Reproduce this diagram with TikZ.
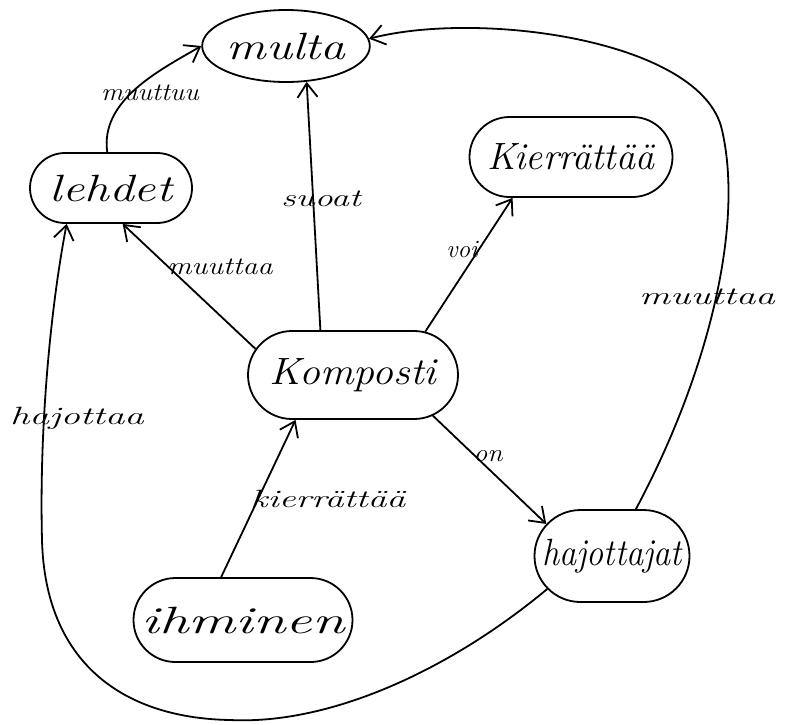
\documentclass[tikz,border=0pt]{standalone}
\usetikzlibrary{shapes.geometric,shapes.misc,arrows.meta}
% horizontally stretched text, for the wide hand lettering
\newcommand{\hw}[2]{\scalebox{#1}[1]{#2}}
\begin{document}
\begin{tikzpicture}[x=1pt,y=-1pt,
  ink/.style={line width=1.8pt,black},
  concept/.style={ink,draw,rounded rectangle,inner sep=0pt,
    font=\itshape\fontsize{38}{40}\selectfont},
  oval/.style={ink,draw,ellipse,inner sep=0pt,
    font=\itshape\fontsize{38}{40}\selectfont},
  link/.style={ink,-{Straight Barb[length=14pt,width=20pt,line width=1.8pt]}},
  tag/.style={font=\itshape\fontsize{25}{27}\selectfont,inner sep=0pt}]
\useasboundingbox (0,0) rectangle (789,724);

% concepts
\node[oval,minimum width=154pt,minimum height=72pt] (multa) at (286,46) {\hw{1.3}{multa}};
\node[concept,minimum width=162pt,minimum height=70pt] (lehdet) at (111,188) {\hw{1.3}{lehdet}};
\node[concept,minimum width=203pt,minimum height=80pt] (kierr) at (571,157) {\hw{1.0}{Kierrättää}};
\node[concept,minimum width=210pt,minimum height=88pt] (komp) at (353,375) {\hw{1.1}{Komposti}};
\node[concept,minimum width=155pt,minimum height=92pt] (hajot) at (612,556) {\hw{0.9}{hajottajat}};
\node[concept,minimum width=219pt,minimum height=84pt] (ihm) at (243,620) {\hw{1.55}{ihminen}};

% connectors
\draw[link] (lehdet.96) .. controls (100,100) and (160,70) .. (multa.west);
\draw[link] (komp.165) -- (lehdet.288);
\draw[link] (komp.126) -- (multa.300);
\draw[link] (komp.31) -- (kierr.215);
\draw[link] (komp.-27) -- (hajot.154);
\draw[link] (ihm.117) -- (komp.218);
\draw[link] (hajot.63) .. controls (705,380) and (745,230) .. (722,130)
  .. controls (702,40) and (480,10) .. (multa.5);
\draw[link] (hajot.207) .. controls (450,670) and (330,725) .. (230,720)
  .. controls (120,718) and (45,660) .. (42,540)
  .. controls (39,420) and (52,300) .. (lehdet.219);

% connector labels
\node[tag] (t1) at (150,93) {\hw{1.1}{muuttuu}};
\node[tag] (t2) at (220,267) {\hw{1.2}{muuttaa}};
\node[tag] (t3) at (321,199) {\hw{1.45}{suoat}};
\node[tag] (t4) at (462,249) {\hw{1.0}{voi}};
\node[tag] (t5) at (488,456) {\hw{1.1}{on}};
\node[tag] (t6) at (328,499) {\hw{1.5}{kierrättää}};
\node[tag] (t7) at (707,297) {\hw{1.55}{muuttaa}};
\node[tag] (t8) at (77,418) {\hw{1.55}{hajottaa}};
\end{tikzpicture}
\end{document}
